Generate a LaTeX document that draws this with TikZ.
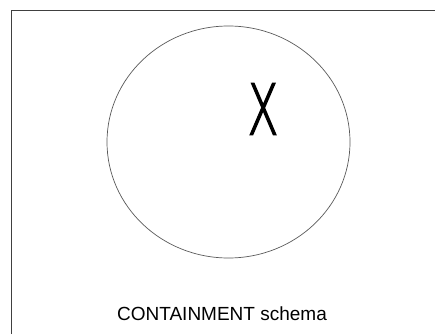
\documentclass[tikz,border=0pt]{standalone}
\usepackage{fontspec}
\setmainfont{Liberation Sans}
\newfontfamily\thinfont{DejaVu Sans}[UprightFont=* ExtraLight, RawFeature={embolden=2.5}]
\usepackage{tikz}
\usetikzlibrary{shapes.geometric}

\begin{document}
\begin{tikzpicture}[
  x=1pt, y=-1pt,
  frame/.style={draw=black!75, line width=0.9pt},
  container/.style={draw=black!65, ellipse, line width=0.7pt, minimum width=243pt, minimum height=232pt, inner sep=0pt},
  item/.style={font=\thinfont\fontsize{70}{70}\selectfont, inner sep=0pt, text=black},
  caption/.style={font=\fontsize{19}{22}\selectfont, inner sep=0pt, anchor=base},
]
\useasboundingbox (0,0) rectangle (435,334);
% ================= FRAME =================
\coordinate (fbl) at (11.5,334);
\coordinate (ftl) at (11.5,10.5);
\coordinate (ftr) at (435,10.5);
\draw[frame] (fbl) -- (ftl) -- (ftr);
% ================= SCHEMA =================
\node[container] (cont) at (228.5,142) {};
\node[item] (x) at (263,109) {\scalebox{0.64}[1]{X}};
\node[caption] (capt) at (222,320) {CONTAINMENT schema};
\end{tikzpicture}
\end{document}
